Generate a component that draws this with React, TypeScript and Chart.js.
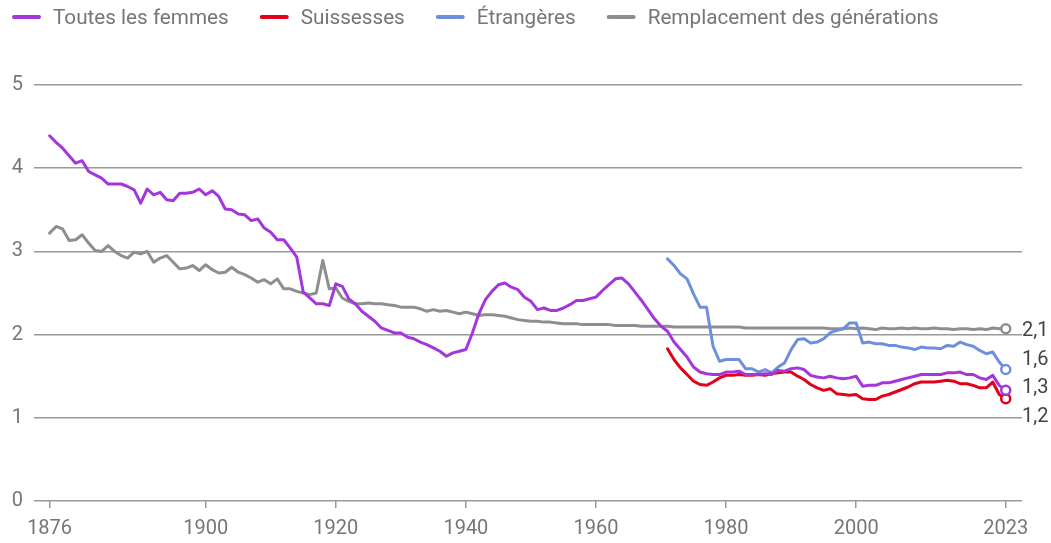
import React, { useEffect, useRef } from 'react';
import { Chart, registerables } from 'chart.js';

Chart.register(...registerables);

// ---------- DATA ----------
const firstYear = 1876;
const nationalityFirstYear = 1971;
const xTickYears = [1876, 1900, 1920, 1940, 1960, 1980, 2000, 2023];
const seriesNames = ['Toutes les femmes', 'Suissesses', 'Étrangères', 'Remplacement des générations'];

// Toutes les femmes, 1876–2023
const toutesLesFemmes = [
  4.39, 4.31, 4.24, 4.15, 4.06, 4.09, 3.96, 3.92, 3.88, 3.81, 3.81, 3.81, 3.78, 3.74, // 1876-1889
  3.58, 3.75, 3.68, 3.71, 3.62, 3.61, 3.70, 3.70, 3.71, 3.75, // 1890-1899
  3.68, 3.73, 3.66, 3.51, 3.50, 3.45, 3.44, 3.37, 3.39, 3.28, // 1900-1909
  3.23, 3.14, 3.14, 3.04, 2.93, 2.51, 2.44, 2.37, 2.37, 2.35, // 1910-1919
  2.61, 2.58, 2.43, 2.37, 2.28, 2.22, 2.16, 2.08, 2.05, 2.02, // 1920-1929
  2.02, 1.97, 1.95, 1.91, 1.88, 1.84, 1.80, 1.74, 1.78, 1.80, // 1930-1939
  1.82, 2.02, 2.25, 2.42, 2.52, 2.60, 2.62, 2.57, 2.54, 2.45, // 1940-1949
  2.40, 2.30, 2.32, 2.29, 2.29, 2.32, 2.36, 2.41, 2.41, 2.43, // 1950-1959
  2.45, 2.53, 2.60, 2.67, 2.68, 2.61, 2.51, 2.41, 2.30, 2.19, // 1960-1969
  2.10, 2.04, 1.91, 1.82, 1.73, 1.61, 1.55, 1.53, 1.52, 1.52, // 1970-1979
  1.55, 1.55, 1.56, 1.52, 1.52, 1.52, 1.53, 1.52, 1.57, 1.56, // 1980-1989
  1.59, 1.60, 1.58, 1.51, 1.49, 1.48, 1.50, 1.48, 1.47, 1.48, // 1990-1999
  1.50, 1.38, 1.39, 1.39, 1.42, 1.42, 1.44, 1.46, 1.48, 1.50, // 2000-2009
  1.52, 1.52, 1.52, 1.52, 1.54, 1.54, 1.55, 1.52, 1.52, 1.48, // 2010-2019
  1.46, 1.51, 1.39, 1.33, // 2020-2023
];

// Suissesses, 1971–2023
const suissesses = [
  1.83, 1.70, 1.60, 1.52, 1.44, 1.40, 1.39, 1.43, 1.48, 1.51, // 1971-1980
  1.51, 1.52, 1.51, 1.51, 1.52, 1.51, 1.53, 1.54, 1.55, 1.55, // 1981-1990
  1.50, 1.46, 1.40, 1.36, 1.33, 1.35, 1.29, 1.28, 1.27, 1.28, // 1991-2000
  1.23, 1.22, 1.22, 1.26, 1.28, 1.31, 1.34, 1.37, 1.41, 1.43, // 2001-2010
  1.43, 1.43, 1.44, 1.45, 1.44, 1.41, 1.41, 1.39, 1.36, 1.36, // 2011-2020
  1.43, 1.28, 1.23, // 2021-2023
];

// Étrangères, 1971–2023
const etrangeres = [
  2.91, 2.83, 2.73, 2.67, 2.49, 2.33, 2.33, 1.86, 1.68, 1.70, // 1971-1980
  1.70, 1.70, 1.59, 1.59, 1.55, 1.58, 1.54, 1.61, 1.66, 1.82, // 1981-1990
  1.94, 1.95, 1.90, 1.91, 1.95, 2.02, 2.05, 2.07, 2.14, 2.14, // 1991-2000
  1.90, 1.91, 1.89, 1.89, 1.87, 1.87, 1.85, 1.84, 1.82, 1.85, // 2001-2010
  1.84, 1.84, 1.83, 1.87, 1.86, 1.91, 1.88, 1.86, 1.81, 1.77, // 2011-2020
  1.79, 1.67, 1.58, // 2021-2023
];

// Remplacement des générations, 1876–2023
const remplacement = [
  3.22, 3.30, 3.27, 3.13, 3.14, 3.20, 3.10, 3.01, 3.00, 3.07, 3.00, 2.95, 2.92, 2.99, // 1876-1889
  2.97, 3.00, 2.87, 2.92, 2.95, 2.87, 2.79, 2.80, 2.83, 2.77, // 1890-1899
  2.84, 2.78, 2.74, 2.75, 2.81, 2.75, 2.72, 2.68, 2.63, 2.66, // 1900-1909
  2.61, 2.67, 2.55, 2.55, 2.52, 2.50, 2.48, 2.50, 2.89, 2.55, // 1910-1919
  2.56, 2.44, 2.40, 2.37, 2.37, 2.38, 2.37, 2.37, 2.36, 2.35, // 1920-1929
  2.33, 2.33, 2.33, 2.31, 2.28, 2.30, 2.28, 2.29, 2.27, 2.25, // 1930-1939
  2.27, 2.25, 2.23, 2.24, 2.24, 2.23, 2.22, 2.20, 2.18, 2.17, // 1940-1949
  2.16, 2.16, 2.15, 2.15, 2.14, 2.13, 2.13, 2.13, 2.12, 2.12, // 1950-1959
  2.12, 2.12, 2.12, 2.11, 2.11, 2.11, 2.11, 2.10, 2.10, 2.10, // 1960-1969
  2.10, 2.10, 2.09, 2.09, 2.09, 2.09, 2.09, 2.09, 2.09, 2.09, // 1970-1979
  2.09, 2.09, 2.09, 2.08, 2.08, 2.08, 2.08, 2.08, 2.08, 2.08, // 1980-1989
  2.08, 2.08, 2.08, 2.08, 2.08, 2.08, 2.07, 2.07, 2.07, 2.08, // 1990-1999
  2.07, 2.08, 2.07, 2.06, 2.08, 2.07, 2.07, 2.08, 2.07, 2.08, // 2000-2009
  2.07, 2.07, 2.08, 2.07, 2.07, 2.06, 2.07, 2.07, 2.06, 2.07, // 2010-2019
  2.06, 2.08, 2.07, 2.07, // 2020-2023
];

// ---------- STYLE ----------
const COLORS = ['#a337dc', '#e2001a', '#6e8fdc', '#8e8e8e'];
const FONT = 'Roboto';
const TEXT_GRAY = '#767676';
const GRID_GRAY = '#9a9a9a';

const toPoints = (values: number[], start: number) =>
  values.map((v, i) => ({ x: start + i, y: v }));

const legendPlugin = {
  id: 'customLegend',
  afterDraw(chart: any) {
    const { ctx } = chart;
    ctx.save();
    ctx.font = `20.7px ${FONT}`;
    ctx.textBaseline = 'alphabetic';
    let x = 12;
    chart.data.datasets.forEach((ds: any) => {
      ctx.strokeStyle = ds.borderColor;
      ctx.lineWidth = 4;
      ctx.lineCap = 'round';
      ctx.beginPath();
      ctx.moveTo(x + 2, 17);
      ctx.lineTo(x + 27, 17);
      ctx.stroke();
      ctx.fillStyle = TEXT_GRAY;
      const tx = x + 41;
      ctx.fillText(ds.label, tx, 24);
      x = tx + ctx.measureText(ds.label).width + 31;
    });
    ctx.restore();
  },
};

const endLabelPlugin = {
  id: 'endLabels',
  afterDatasetsDraw(chart: any) {
    const { ctx, chartArea } = chart;
    const items = chart.data.datasets.map((ds: any, i: number) => {
      const meta = chart.getDatasetMeta(i);
      const el = meta.data[meta.data.length - 1];
      const v = ds.data[ds.data.length - 1].y;
      return { y: el.y, text: v.toFixed(1).replace('.', ',') };
    });
    items.sort((a: any, b: any) => a.y - b.y);
    const gap = 28.5;
    let groups = items.map((it: any) => ({ items: [it], center: it.y }));
    let changed = true;
    while (changed) {
      changed = false;
      for (let i = 0; i < groups.length - 1; i++) {
        const a = groups[i];
        const b = groups[i + 1];
        const aBottom = a.center + ((a.items.length - 1) * gap) / 2;
        const bTop = b.center - ((b.items.length - 1) * gap) / 2;
        if (bTop - aBottom < gap) {
          const merged = [...a.items, ...b.items];
          const center = merged.reduce((s: number, it: any) => s + it.y, 0) / merged.length;
          groups.splice(i, 2, { items: merged, center });
          changed = true;
          break;
        }
      }
    }
    ctx.save();
    ctx.font = `20px ${FONT}`;
    ctx.fillStyle = '#444444';
    ctx.textAlign = 'left';
    ctx.textBaseline = 'alphabetic';
    groups.forEach((g: any) => {
      g.items.forEach((it: any, k: number) => {
        const y = g.center + (k - (g.items.length - 1) / 2) * gap;
        ctx.fillText(it.text, chartArea.right, y + 7.1);
      });
    });
    ctx.restore();
  },
};

export default function App() {
  const canvasRef = useRef<HTMLCanvasElement | null>(null);

  useEffect(() => {
    if (!canvasRef.current) return;
    Chart.defaults.font.family = FONT;
    const seriesValues = [
      toPoints(toutesLesFemmes, firstYear),
      toPoints(suissesses, nationalityFirstYear),
      toPoints(etrangeres, nationalityFirstYear),
      toPoints(remplacement, firstYear),
    ];
    const datasets = seriesValues.map((data, i) => ({
      label: seriesNames[i],
      data,
      borderColor: COLORS[i],
      backgroundColor: COLORS[i],
      borderWidth: 3,
      borderJoinStyle: 'round' as const,
      borderCapStyle: 'round' as const,
      tension: 0,
      pointRadius: (c: any) => (c.dataIndex === data.length - 1 ? 4.5 : 0),
      pointBorderWidth: 2.5,
      pointBackgroundColor: '#ffffff',
      pointBorderColor: COLORS[i],
      pointHoverRadius: 0,
    }));

    const chart = new Chart(canvasRef.current, {
      type: 'line',
      data: { datasets },
      plugins: [legendPlugin, endLabelPlugin],
      options: {
        animation: false,
        responsive: true,
        maintainAspectRatio: false,
        layout: { padding: { left: 0, right: 29, top: 85, bottom: 0 } },
        plugins: {
          legend: { display: false },
          tooltip: { enabled: false },
        },
        scales: {
          x: {
            type: 'linear',
            min: 1873.6,
            max: 2025.5,
            afterBuildTicks: (scale: any) => {
              scale.ticks = xTickYears.map((v) => ({ value: v }));
            },
            afterFit: (scale: any) => {
              scale.height = 42;
            },
            ticks: {
              autoSkip: false,
              maxRotation: 0,
              color: TEXT_GRAY,
              font: { size: 20, family: FONT },
              padding: 9,
              callback: (v: any) => String(v),
            },
            grid: {
              drawOnChartArea: false,
              drawTicks: true,
              tickLength: 7,
              color: GRID_GRAY,
              lineWidth: 1.5,
            },
            border: { display: false },
          },
          y: {
            min: 0,
            max: 5,
            afterFit: (scale: any) => {
              scale.width = 34;
            },
            ticks: {
              stepSize: 1,
              color: TEXT_GRAY,
              font: { size: 20, family: FONT },
              padding: 11,
            },
            grid: {
              drawTicks: false,
              color: GRID_GRAY,
              lineWidth: 1.5,
            },
            border: { display: false },
          },
        },
      },
    });
    return () => chart.destroy();
  }, []);

  return (
    <div style={{ position: 'fixed', left: 0, top: 0, width: 1051, height: 543, background: '#ffffff' }}>
      <canvas ref={canvasRef} />
    </div>
  );
}
